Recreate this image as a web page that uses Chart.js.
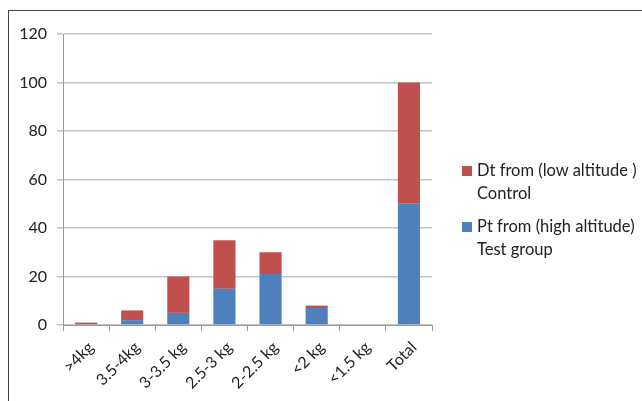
<!DOCTYPE html>
<html><head><meta charset="utf-8">
<script src="https://cdn.jsdelivr.net/npm/chart.js@4/dist/chart.umd.min.js"></script>
<style>
html,body{margin:0;padding:0;background:#fff;width:642px;height:401px;overflow:hidden;}
#frame{position:absolute;left:8px;top:10px;width:640px;height:400px;border-left:1px solid #444;border-top:1px solid #444;box-sizing:border-box;}
#wrap{position:absolute;left:0;top:0;width:642px;height:401px;}
#legend{position:absolute;left:462px;top:159px;font-family:Lato,"Open Sans",sans-serif;font-size:16.5px;color:#222;line-height:23px;}
.item{position:relative;padding-left:15px;margin-bottom:10px;white-space:nowrap;}
.sw{position:absolute;left:0;top:7px;width:10px;height:10px;}
</style></head>
<body>
<div id="frame"></div>
<div id="wrap"><canvas id="c" width="642" height="401"></canvas></div>
<div id="legend"></div>
<script>
const categories = [">4kg","3.5-4kg","3-3.5 kg","2.5-3 kg","2-2.5 kg","<2 kg","<1.5 kg","Total"];
const ptHigh = [0, 2, 5, 15, 21, 7, 0, 50];
const dtLow = [1, 4, 15, 20, 9, 1, 0, 50];
const seriesNames = [["Dt from (low altitude )","Control"],["Pt from (high altitude)","Test group"]];
const yTicks = [0,20,40,60,80,100,120];

const RED = "#C0504D", BLUE = "#4F81BD";
const fam = "Lato, 'Open Sans', sans-serif";

new Chart(document.getElementById("c"), {
  type: "bar",
  data: {
    labels: categories,
    datasets: [
      {label: seriesNames[1].join(" "), data: ptHigh, backgroundColor: BLUE, stack: "s"},
      {label: seriesNames[0].join(" "), data: dtLow, backgroundColor: RED, stack: "s"}
    ]
  },
  options: {
    responsive: false,
    animation: false,
    layout: {padding: {left: 0, top: 34, right: 210, bottom: 0}},
    plugins: {legend: {display: false}, tooltip: {enabled: false}},
    datasets: {bar: {categoryPercentage: 1, barPercentage: 0.48}},
    scales: {
      x: {
        stacked: true,
        afterFit: s => { s.height = 76; },
        grid: {display: true, drawOnChartArea: false, tickLength: 6, color: "#999", offset: true},
        border: {color: "#999"},
        ticks: {font: {family: fam, size: 16}, color: "#222", minRotation: 45, maxRotation: 45, padding: 7, labelOffset: 5}
      },
      y: {
        stacked: true,
        min: 0, max: 120,
        afterFit: s => { s.width = 63; },
        afterBuildTicks: s => { s.ticks = yTicks.map(v => ({value: v})); },
        grid: {color: "#c4c4c4", lineWidth: 1.5, tickLength: 6},
        border: {color: "#999"},
        ticks: {font: {family: fam, size: 16}, color: "#222", padding: 10}
      }
    }
  }
});

const lg = document.getElementById("legend");
[[RED, seriesNames[0]], [BLUE, seriesNames[1]]].forEach(([col, lines]) => {
  const div = document.createElement("div");
  div.className = "item";
  const sw = document.createElement("span");
  sw.className = "sw"; sw.style.background = col;
  div.appendChild(sw);
  lines.forEach(t => {
    const ln = document.createElement("div");
    ln.textContent = t;
    div.appendChild(ln);
  });
  lg.appendChild(div);
});
</script>
</body></html>
